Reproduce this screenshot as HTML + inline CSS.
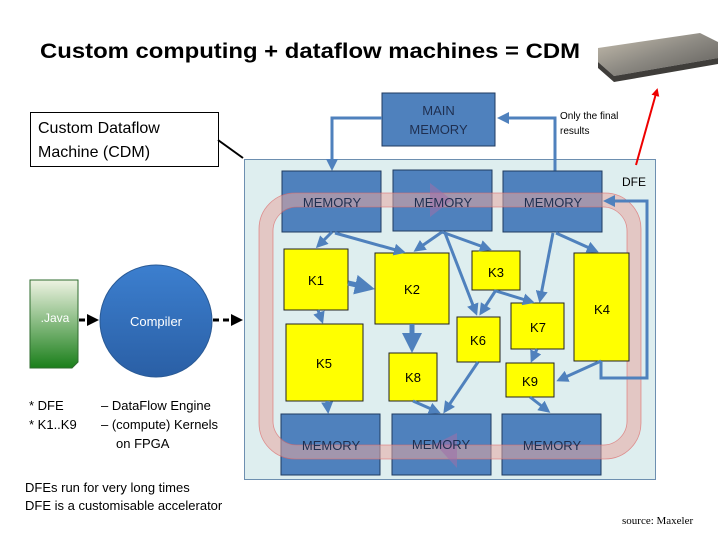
<!DOCTYPE html>
<html><head><meta charset="utf-8"><style>
body{margin:0;background:#fff;}
svg{display:block;}
</style></head><body>
<svg width="720" height="540" viewBox="0 0 720 540" xmlns="http://www.w3.org/2000/svg" font-family="Liberation Sans, sans-serif">
<defs>
<linearGradient id="jg" x1="0" y1="0" x2="0" y2="1"><stop offset="0" stop-color="#eef3e2"/><stop offset="1" stop-color="#1a7f1a"/></linearGradient>
<linearGradient id="cg" x1="0" y1="0" x2="0" y2="1"><stop offset="0" stop-color="#3c7fcf"/><stop offset="1" stop-color="#2a5fa5"/></linearGradient>
<linearGradient id="sv" x1="0" y1="0" x2="1" y2="1"><stop offset="0" stop-color="#c8c0b0"/><stop offset="0.5" stop-color="#8d8a83"/><stop offset="1" stop-color="#5d5b58"/></linearGradient>
<marker id="a" markerWidth="4" markerHeight="4" refX="3" refY="2" orient="auto"><path d="M0,0L4,2L0,4z" fill="#4f81bd"/></marker>
<marker id="k" markerWidth="4" markerHeight="4" refX="3" refY="2" orient="auto"><path d="M0,0L4,2L0,4z" fill="#000"/></marker>
<marker id="r" markerWidth="4" markerHeight="4" refX="3" refY="2" orient="auto"><path d="M0,0L4,2L0,4z" fill="#e00"/></marker>
</defs>
<text x="40" y="58" font-size="21" font-weight="bold" textLength="540" lengthAdjust="spacingAndGlyphs">Custom computing + dataflow machines = CDM</text>
<!-- server -->
<polygon points="598,48 700,33 718,42 718,58 614,76 598,62" fill="url(#sv)"/>
<polygon points="598,62 614,76 718,58 718,64 614,82 598,68" fill="#3f3d3a"/>
<!-- CDM label -->
<rect x="30.5" y="112.5" width="188" height="54" fill="#fff" stroke="#000"/>
<text x="38" y="133" font-size="16">Custom Dataflow</text>
<text x="38" y="157" font-size="16">Machine (CDM)</text>
<line x1="218" y1="140" x2="243" y2="158" stroke="#000" stroke-width="2"/>
<!-- panel -->
<rect x="244.5" y="159.5" width="411" height="320" fill="#deeeef" stroke="#6d8fb0"/>
<!-- main memory -->
<rect x="382" y="93" width="113" height="53" fill="#4f81bd" stroke="#1f3a60"/>
<text x="438.5" y="115" font-size="13" fill="#1f2f50" text-anchor="middle">MAIN</text>
<text x="438.5" y="134" font-size="13" fill="#1f2f50" text-anchor="middle">MEMORY</text>
<polyline points="382,118 332,118 332,168" fill="none" stroke="#4f81bd" stroke-width="3" marker-end="url(#a)"/>
<polyline points="555,171 555,118 500,118" fill="none" stroke="#4f81bd" stroke-width="3" marker-end="url(#a)"/>
<text x="560" y="119" font-size="10">Only the final</text>
<text x="560" y="134" font-size="10">results</text>
<line x1="636" y1="165" x2="657" y2="90" stroke="#e00" stroke-width="2" marker-end="url(#r)"/>
<text x="622" y="186" font-size="12">DFE</text>
<!-- memories -->
<g fill="#4f81bd" stroke="#1f3a60">
<rect x="282" y="171" width="99" height="61"/><rect x="393" y="170" width="99" height="61"/><rect x="503" y="171" width="99" height="61"/>
<rect x="281" y="414" width="99" height="61"/><rect x="392" y="414" width="99" height="61"/><rect x="502" y="414" width="99" height="61"/>
</g>
<!-- red loop -->
<rect x="266" y="200" width="368" height="252" rx="30" fill="none" stroke="#e8a8a0" stroke-width="14" stroke-opacity="0.55"/>
<rect x="259" y="193" width="382" height="266" rx="36" fill="none" stroke="#d66" stroke-width="0.8" stroke-opacity="0.7"/>
<rect x="273" y="207" width="354" height="238" rx="24" fill="none" stroke="#d66" stroke-width="0.8" stroke-opacity="0.7"/>
<polygon points="430,183 452,200 430,217" fill="#a070a8" fill-opacity="0.55"/>
<polygon points="457,433 435,444 457,468" fill="#a070a8" fill-opacity="0.55"/>
<g font-size="13" fill="#1f2f50" text-anchor="middle">
<text x="332" y="207">MEMORY</text><text x="443" y="207">MEMORY</text><text x="553" y="207">MEMORY</text>
<text x="331" y="450">MEMORY</text><text x="441" y="449">MEMORY</text><text x="552" y="450">MEMORY</text>
</g>
<!-- kernels -->
<g fill="#ffff00" stroke="#222">
<rect x="284" y="249" width="64" height="61"/><rect x="375" y="253" width="74" height="71"/>
<rect x="472" y="251" width="48" height="39"/><rect x="574" y="253" width="55" height="108"/>
<rect x="286" y="324" width="77" height="77"/><rect x="457" y="317" width="43" height="45"/>
<rect x="511" y="303" width="53" height="46"/><rect x="389" y="353" width="48" height="48"/>
<rect x="506" y="363" width="48" height="34"/>
</g>
<g font-size="13" text-anchor="middle">
<text x="316" y="285">K1</text><text x="412" y="294">K2</text><text x="496" y="277">K3</text>
<text x="602" y="314">K4</text><text x="324" y="368">K5</text><text x="478" y="345">K6</text>
<text x="538" y="332">K7</text><text x="413" y="382">K8</text><text x="530" y="386">K9</text>
</g>
<!-- arrows -->
<g stroke="#4f81bd" stroke-width="3" fill="none" marker-end="url(#a)">
<line x1="332" y1="232" x2="318" y2="246"/>
<line x1="335" y1="233" x2="403" y2="252"/>
<line x1="442" y1="232" x2="416" y2="250"/>
<line x1="442" y1="232" x2="489" y2="249"/>
<line x1="445" y1="233" x2="476" y2="313"/>
<line x1="553" y1="233" x2="540" y2="300"/>
<line x1="556" y1="233" x2="596" y2="251"/>
<line x1="348" y1="283" x2="370" y2="288" stroke-width="5"/>
<line x1="318" y1="310" x2="322" y2="321"/>
<line x1="412" y1="324" x2="412" y2="348" stroke-width="5"/>
<line x1="496" y1="290" x2="481" y2="313"/>
<line x1="496" y1="291" x2="532" y2="302"/>
<line x1="537" y1="349" x2="532" y2="360"/>
<line x1="601" y1="361" x2="559" y2="380"/>
<line x1="327" y1="401" x2="328" y2="411"/>
<line x1="413" y1="401" x2="438" y2="412"/>
<line x1="478" y1="362" x2="445" y2="411"/>
<line x1="530" y1="397" x2="548" y2="411"/>
<polyline points="601,361 601,378 647,378 647,201 606,201"/>
</g>
<!-- Java / compiler -->
<path d="M30,280 H78 V362 L72,368 H30Z" fill="url(#jg)" stroke="#2e6b2e"/>
<text x="55" y="322" font-size="12" fill="#fff" text-anchor="middle">.Java</text>
<line x1="79" y1="320" x2="96" y2="320" stroke="#000" stroke-width="3" stroke-dasharray="6,4" marker-end="url(#k)"/>
<circle cx="156" cy="321" r="56" fill="url(#cg)" stroke="#2a5a95"/>
<text x="156" y="326" font-size="13" fill="#fff" text-anchor="middle">Compiler</text>
<line x1="213" y1="320" x2="240" y2="320" stroke="#000" stroke-width="3" stroke-dasharray="6,4" marker-end="url(#k)"/>
<!-- notes -->
<g font-size="13">
<text x="29" y="410">* DFE</text><text x="29" y="429">* K1..K9</text>
<text x="101" y="410">– DataFlow Engine</text><text x="101" y="429">– (compute) Kernels</text><text x="116" y="448">on FPGA</text>
<text x="25" y="492">DFEs run for very long times</text><text x="25" y="510">DFE is a customisable accelerator</text>
</g>
<text x="622" y="524" font-size="11" font-family="Liberation Serif, serif">source: Maxeler</text>
</svg>
</body></html>
